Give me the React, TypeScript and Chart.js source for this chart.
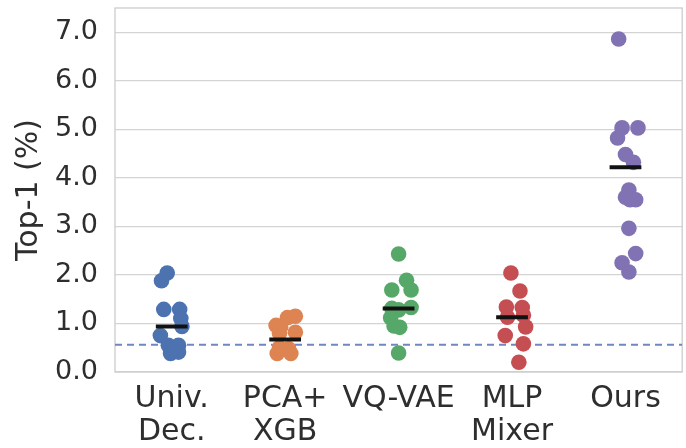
import { useEffect, useRef } from "react";
import { Chart, registerables } from "chart.js";

Chart.register(...registerables);

// ---- data ----
const categories: string[][] = [["Univ.", "Dec."], ["PCA+", "XGB"], ["VQ-VAE"], ["MLP", "Mixer"], ["Ours"]];

const univDec = [2.04, 1.88, 1.29, 1.29, 1.1, 0.94, 0.75, 0.55, 0.55, 0.41, 0.38];
const univDecJitter = [-0.04, -0.09, -0.07, 0.07, 0.08, 0.09, -0.1, -0.03, 0.06, 0.06, -0.01];

const pcaXgb = [1.15, 1.12, 0.96, 0.92, 0.82, 0.8, 0.5, 0.48, 0.38, 0.38];
const pcaXgbJitter = [0.09, 0.02, -0.08, -0.04, 0.09, -0.05, -0.05, 0.03, -0.07, 0.05];

const vqVae = [2.43, 1.89, 1.69, 1.69, 1.33, 1.31, 1.28, 1.12, 0.95, 0.92, 0.39];
const vqVaeJitter = [0.0, 0.07, -0.06, 0.11, 0.11, -0.06, 0.0, -0.07, -0.04, 0.01, 0.0];

const mlpMixer = [2.04, 1.67, 1.34, 1.33, 1.17, 1.13, 0.93, 0.75, 0.58, 0.2];
const mlpMixerJitter = [-0.01, 0.07, -0.05, 0.09, 0.1, -0.04, 0.12, -0.06, 0.1, 0.06];

const ours = [6.86, 5.03, 5.03, 4.82, 4.48, 4.32, 3.75, 3.6, 3.55, 3.55, 2.96, 2.44, 2.25, 2.06];
const oursJitter = [-0.06, -0.03, 0.11, -0.07, 0.0, 0.07, 0.03, 0.0, 0.04, 0.09, 0.03, 0.09, -0.03, 0.03];

const medians = [0.94, 0.67, 1.31, 1.13, 4.22];
const baseline = 0.56;
const yTicks = [0, 1, 2, 3, 4, 5, 6, 7];

const seriesValues = [univDec, pcaXgb, vqVae, mlpMixer, ours];
const seriesJitter = [univDecJitter, pcaXgbJitter, vqVaeJitter, mlpMixerJitter, oursJitter];
const colors = ["#4C72B0", "#DD8452", "#55A868", "#C44E52", "#8172B3"];

const FONT = "'DejaVu Sans', sans-serif";
const TEXT = "#2e2e2e";

export default function App() {
  const ref = useRef<HTMLCanvasElement | null>(null);

  useEffect(() => {
    if (!ref.current) return;
    const pointSets = seriesValues.map((vals, i) => ({
      type: "scatter" as const,
      label: categories[i].join(" "),
      data: vals.map((v, j) => ({ x: i + seriesJitter[i][j], y: v })),
      backgroundColor: colors[i],
      borderColor: colors[i],
      borderWidth: 0,
      pointRadius: 7.8,
      order: 5,
    }));
    const medianSets = medians.map((m, i) => ({
      type: "line" as const,
      label: "median " + i,
      data: [
        { x: i - 0.14, y: m },
        { x: i + 0.14, y: m },
      ],
      borderColor: "#111111",
      borderWidth: 4,
      pointRadius: 0,
      order: 0,
    }));
    const baseSet = {
      type: "line" as const,
      label: "baseline",
      data: [
        { x: -0.5, y: baseline },
        { x: 4.5, y: baseline },
      ],
      borderColor: "#6f86c2",
      borderWidth: 2,
      borderDash: [7, 5],
      pointRadius: 0,
      order: 10,
    };

    const framePlugin = {
      id: "frame",
      beforeDatasetsDraw(chart: any) {
        const { ctx, chartArea } = chart;
        ctx.save();
        ctx.strokeStyle = "#cccccc";
        ctx.lineWidth = 1.3;
        ctx.strokeRect(chartArea.left, chartArea.top, chartArea.right - chartArea.left, chartArea.bottom - chartArea.top);
        ctx.restore();
      },
    };

    const chart = new Chart(ref.current, {
      type: "scatter",
      data: { datasets: [...pointSets, ...medianSets, baseSet] as any },
      plugins: [framePlugin],
      options: {
        animation: false,
        responsive: false,
        maintainAspectRatio: false,
        layout: { padding: { top: 8, right: 3, left: 0, bottom: 0 } },
        plugins: { legend: { display: false }, tooltip: { enabled: false } },
        scales: {
          x: {
            type: "linear",
            min: -0.5,
            max: 4.5,
            afterBuildTicks: (s: any) => {
              s.ticks = categories.map((_, i) => ({ value: i }));
            },
            afterFit: (s: any) => {
              s.height = 76;
              s.paddingLeft = 0;
              s.paddingRight = 0;
            },
            grid: { display: false, drawTicks: false },
            border: { display: false },
            ticks: {
              padding: 11,
              color: TEXT,
              font: { family: FONT, size: 30, lineHeight: 1.1 },
              maxRotation: 0,
              autoSkip: false,
              callback: (v: any) => categories[Math.round(Number(v))] as any,
            },
          },
          y: {
            type: "linear",
            min: 0,
            max: 7.5,
            afterBuildTicks: (s: any) => {
              s.ticks = yTicks.map((v) => ({ value: v }));
            },
            afterFit: (s: any) => {
              s.width = 115;
              s.paddingTop = 0;
              s.paddingBottom = 0;
            },
            grid: { color: "#d4d4d4", lineWidth: 1.2, drawTicks: false },
            border: { display: false },
            title: {
              display: true,
              text: "Top-1 (%)",
              color: TEXT,
              font: { family: FONT, size: 30, lineHeight: 1.2 },
              padding: { top: 11, bottom: 0 },
            },
            ticks: {
              padding: 17,
              color: TEXT,
              font: { family: FONT, size: 27 },
              callback: (v: any) => Number(v).toFixed(1),
            },
          },
        },
      },
    });
    return () => chart.destroy();
  }, []);

  return (
    <div style={{ position: "absolute", left: 0, top: 0, width: 686, height: 448, overflow: "hidden", background: "#fff" }}>
      <canvas ref={ref} width={690} height={448} style={{ width: 690, height: 448, display: "block" }} />
    </div>
  );
}
